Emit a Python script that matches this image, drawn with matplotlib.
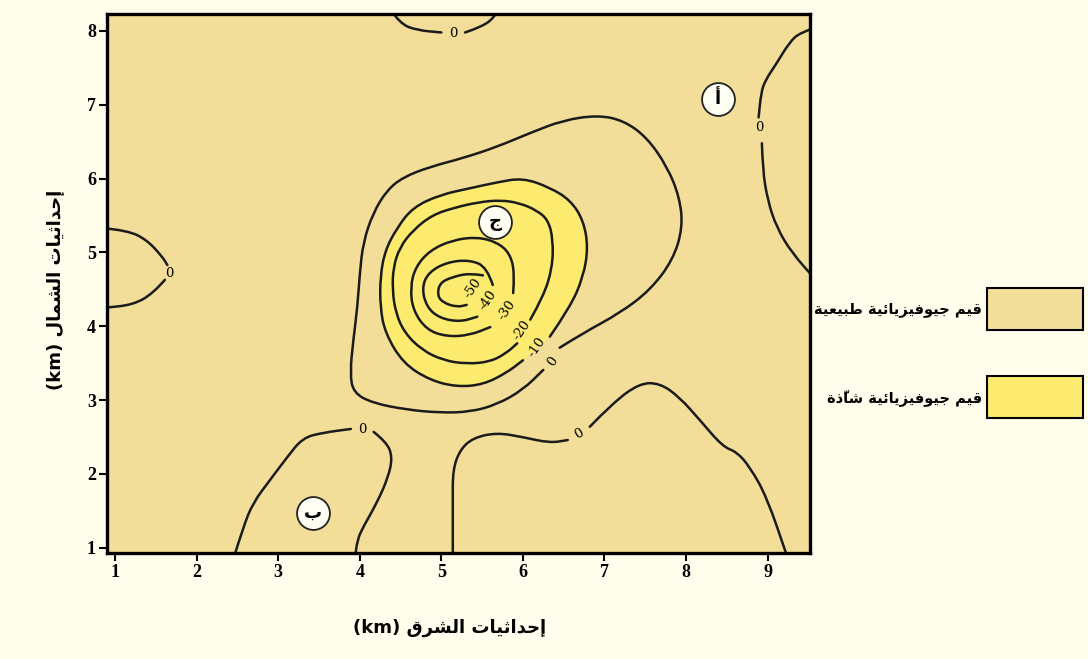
#geophysical survey contour map (arabic labels)

import numpy as np
import matplotlib.pyplot as plt
from matplotlib.patches import Rectangle, PathPatch
from matplotlib.path import Path

# --- data (km) ---
x_ticks = [1, 2, 3, 4, 5, 6, 7, 8, 9]
y_ticks = [1, 2, 3, 4, 5, 6, 7, 8]

# closed anomaly contours around the centre (gap = label position)
c0_x = [6.45, 6.74, 7.19, 7.56, 7.84, 7.96, 7.92, 7.77, 7.52, 7.23, 6.91, 6.49, 6.09, 5.68, 5.27, 4.86, 4.53, 4.33,
        4.16, 4.04, 4.00, 3.97, 3.92, 3.88, 3.92, 4.16, 4.58, 4.98, 5.35, 5.68, 6.00, 6.25]
c0_y = [3.71, 3.91, 4.18, 4.49, 4.90, 5.34, 5.75, 6.16, 6.56, 6.79, 6.86, 6.79, 6.62, 6.43, 6.28, 6.16, 6.02, 5.84,
        5.53, 5.13, 4.72, 4.26, 3.81, 3.37, 3.10, 2.96, 2.87, 2.83, 2.84, 2.94, 3.14, 3.41]

c10_x = [6.33, 6.58, 6.74, 6.80, 6.74, 6.58, 6.33, 6.00, 5.68, 5.35, 4.98, 4.65, 4.46, 4.31, 4.25, 4.25, 4.31, 4.53,
         4.86, 5.19, 5.51, 5.80, 6.00]
c10_y = [3.86, 4.26, 4.67, 5.07, 5.44, 5.71, 5.88, 6.01, 5.95, 5.87, 5.78, 5.61, 5.34, 5.03, 4.67, 4.26, 3.91, 3.50,
         3.27, 3.18, 3.21, 3.37, 3.54]

c20_x = [6.09, 6.25, 6.36, 6.37, 6.31, 6.17, 5.96, 5.72, 5.45, 5.17, 4.89, 4.65, 4.49, 4.41, 4.40, 4.44, 4.55, 4.76,
         5.02, 5.31, 5.60, 5.80, 5.93]
c20_y = [4.09, 4.40, 4.79, 5.17, 5.44, 5.57, 5.67, 5.71, 5.68, 5.61, 5.51, 5.30, 5.07, 4.80, 4.49, 4.18, 3.91, 3.68,
         3.54, 3.49, 3.52, 3.64, 3.77]

c30_x = [5.88, 5.90, 5.84, 5.68, 5.44, 5.14, 4.86, 4.68, 4.62, 4.65, 4.82, 5.07, 5.35, 5.60]
c30_y = [4.45, 4.72, 4.99, 5.14, 5.21, 5.17, 5.03, 4.80, 4.53, 4.22, 3.95, 3.86, 3.88, 3.99]

c40_x = [5.63, 5.56, 5.35, 5.07, 4.84, 4.76, 4.82, 4.98, 5.23, 5.44]
c40_y = [4.56, 4.80, 4.90, 4.87, 4.73, 4.52, 4.26, 4.11, 4.06, 4.13]

c50_x = [5.51, 5.35, 5.14, 4.98, 4.95, 5.02, 5.19, 5.31]
c50_y = [4.69, 4.72, 4.67, 4.59, 4.42, 4.32, 4.26, 4.29]

centre_labels = ['0', '-10', '-20', '-30', '-40', '-50']
centre_lab_x = [6.36, 6.17, 5.99, 5.80, 5.57, 5.38]
centre_lab_y = [3.52, 3.72, 3.95, 4.22, 4.36, 4.52]

# open zero contours that run into the frame (nan = label gap)
left_x = [0.85, 1.15, 1.39, 1.58, 1.64, np.nan, 1.61, 1.47, 1.22, 0.85]
left_y = [5.33, 5.30, 5.17, 4.94, 4.83, np.nan, 4.63, 4.45, 4.29, 4.25]

top_x = [4.37, 4.49, 4.70, 5.00, np.nan, 5.29, 5.51, 5.66, 5.69]
top_y = [8.30, 8.10, 8.01, 7.98, np.nan, 7.98, 8.06, 8.20, 8.30]

right_x = [9.60, 9.40, 9.27, 9.11, 8.97, 8.92, 8.89, np.nan, 8.93, 8.94, 9.00, 9.11, 9.30, 9.60]
right_y = [8.05, 7.98, 7.85, 7.56, 7.33, 7.16, 6.83, np.nan, 6.48, 6.12, 5.71, 5.34, 4.99, 4.62]

botleft_x = [2.45, 2.57, 2.69, 2.90, 3.11, 3.30, 3.55, 3.89, np.nan, 4.17, 4.33, 4.40, 4.35, 4.21, 4.04, 3.97, 3.94]
botleft_y = [0.85, 1.28, 1.61, 1.92, 2.23, 2.49, 2.56, 2.61, np.nan, 2.57, 2.43, 2.23, 1.96, 1.61, 1.28, 1.11, 0.85]

botright_x = [5.14, 5.14, 5.14, 5.23, 5.39, 5.68, 6.00, 6.33, 6.55, np.nan, 6.82, 7.10, 7.43, 7.68, 7.92, 8.17, 8.45,
              8.62, 8.78, 8.99, 9.25]
botright_y = [0.85, 1.61, 2.06, 2.33, 2.49, 2.56, 2.50, 2.42, 2.46, np.nan, 2.64, 2.96, 3.23, 3.23, 3.04, 2.73, 2.37,
              2.30, 2.10, 1.69, 0.85]

zero_lab_x = [1.67, 5.15, 8.90, 4.03, 6.69]
zero_lab_y = [4.72, 7.97, 6.69, 2.60, 2.54]
zero_lab_rot = [0, 0, 0, 0, 30]

# lettered sites
site_names = ['أ', 'ب', 'ج']
site_x = [8.39, 3.43, 5.66]
site_y = [7.08, 1.47, 5.41]

legend_names = ['قيم جيوفيزيائية طبيعية', 'قيم جيوفيزيائية شاذّة']
x_title = 'إحداثيات الشرق'
y_title = 'إحداثيات الشمال'

tan = '#F2DE98'
yellow = '#FCEB6E'
cream = '#FFFDEB'

# matplotlib has no arabic shaping -> pick presentation forms by hand and reverse
FORMS = {
    'ا': ('\uFE8D', '\uFE8E', None, None),
    'أ': ('\uFE83', '\uFE84', None, None),
    'إ': ('\uFE87', '\uFE88', None, None),
    'ب': ('\uFE8F', '\uFE90', '\uFE91', '\uFE92'),
    'ة': ('\uFE93', '\uFE94', None, None),
    'ت': ('\uFE95', '\uFE96', '\uFE97', '\uFE98'),
    'ث': ('\uFE99', '\uFE9A', '\uFE9B', '\uFE9C'),
    'ج': ('\uFE9D', '\uFE9E', '\uFE9F', '\uFEA0'),
    'ح': ('\uFEA1', '\uFEA2', '\uFEA3', '\uFEA4'),
    'د': ('\uFEA9', '\uFEAA', None, None),
    'ذ': ('\uFEAB', '\uFEAC', None, None),
    'ر': ('\uFEAD', '\uFEAE', None, None),
    'ز': ('\uFEAF', '\uFEB0', None, None),
    'ش': ('\uFEB5', '\uFEB6', '\uFEB7', '\uFEB8'),
    'ط': ('\uFEC1', '\uFEC2', '\uFEC3', '\uFEC4'),
    'ع': ('\uFEC9', '\uFECA', '\uFECB', '\uFECC'),
    'ف': ('\uFED1', '\uFED2', '\uFED3', '\uFED4'),
    'ق': ('\uFED5', '\uFED6', '\uFED7', '\uFED8'),
    'ل': ('\uFEDD', '\uFEDE', '\uFEDF', '\uFEE0'),
    'م': ('\uFEE1', '\uFEE2', '\uFEE3', '\uFEE4'),
    'و': ('\uFEED', '\uFEEE', None, None),
    'ي': ('\uFEF1', '\uFEF2', '\uFEF3', '\uFEF4'),
    'ئ': ('\uFE89', '\uFE8A', '\uFE8B', '\uFE8C'),
}
MARKS = '\u0651'


def ar(text):
    chars = list(text)
    clusters = []
    for i, c in enumerate(chars):
        if c in MARKS and clusters:
            clusters[-1] += c
            continue
        if c not in FORMS:
            clusters.append(c)
            continue
        j = i - 1
        while j >= 0 and chars[j] in MARKS:
            j -= 1
        k = i + 1
        while k < len(chars) and chars[k] in MARKS:
            k += 1
        prev_joins = j >= 0 and chars[j] in FORMS and FORMS[chars[j]][2] is not None
        iso, fin, ini, med = FORMS[c]
        next_joins = ini is not None and k < len(chars) and chars[k] in FORMS
        if prev_joins and next_joins:
            g = med
        elif prev_joins:
            g = fin
        elif next_joins:
            g = ini
        else:
            g = iso
        clusters.append(g)
    return ''.join(reversed(clusters))


def smooth_path(xs, ys):
    # quadratic bezier through the traced points (nan splits the line)
    segs, cur = [], []
    for px, py in zip(xs, ys):
        if np.isnan(px):
            if cur:
                segs.append(cur)
            cur = []
        else:
            cur.append((px, py))
    if cur:
        segs.append(cur)
    verts, codes = [], []
    for seg in segs:
        seg = np.array(seg)
        verts.append(seg[0])
        codes.append(Path.MOVETO)
        for i in range(1, len(seg) - 1):
            verts += [seg[i], (seg[i] + seg[i + 1]) / 2]
            codes += [Path.CURVE3, Path.CURVE3]
        verts.append(seg[-1])
        codes.append(Path.LINETO)
    return Path(verts, codes)


fig = plt.figure(figsize=(10.88, 6.59), dpi=100, facecolor=cream)
ax = fig.add_axes([107 / 1088, 1 - 553 / 659, 703 / 1088, 539 / 659])
ax.set_facecolor(tan)

# anomaly fill
ax.add_patch(PathPatch(smooth_path(c10_x, c10_y), facecolor=yellow, edgecolor='none', zorder=1))

for xs, ys in [(c0_x, c0_y), (c10_x, c10_y), (c20_x, c20_y), (c30_x, c30_y), (c40_x, c40_y), (c50_x, c50_y),
               (left_x, left_y), (top_x, top_y), (right_x, right_y), (botleft_x, botleft_y),
               (botright_x, botright_y)]:
    ax.add_patch(PathPatch(smooth_path(xs, ys), fill=False, edgecolor='#1b1b1b', lw=1.8, zorder=2,
                           capstyle='round'))

for lab, lx, ly in zip(centre_labels, centre_lab_x, centre_lab_y):
    ax.text(lx, ly, lab, fontsize=9.5, family='DejaVu Serif', rotation=55, ha='center', va='center',
            rotation_mode='anchor', zorder=3)
for lx, ly, rot in zip(zero_lab_x, zero_lab_y, zero_lab_rot):
    ax.text(lx, ly, '0', fontsize=9.5, family='DejaVu Serif', rotation=rot, ha='center', va='center',
            rotation_mode='anchor', zorder=3)

# site markers
ax.scatter(site_x, site_y, s=560, facecolor='#FFFFF4', edgecolor='#222222', linewidth=1.3, zorder=4)
for name, sx, sy in zip(site_names, site_x, site_y):
    ax.text(sx, sy, ar(name), fontsize=13, ha='center', va='center', zorder=5, family='DejaVu Sans',
            fontweight='bold')

ax.set_xlim(0.9, 9.52)
ax.set_ylim(0.93, 8.23)
ax.set_xticks(x_ticks)
ax.set_yticks(y_ticks)
ax.tick_params(direction='out', length=6, width=1.5, labelsize=13, pad=2, colors='black')
for lab in ax.get_xticklabels() + ax.get_yticklabels():
    lab.set_fontfamily('Liberation Serif')
    lab.set_fontweight('bold')
for sp in ax.spines.values():
    sp.set_linewidth(2.4)
    sp.set_color('black')

fig.text(450 / 1088, 1 - 628 / 659, '(km) ' + ar(x_title), ha='center', va='center', fontsize=13,
         fontweight='bold')
fig.text(55 / 1088, 1 - 290 / 659, '(km) ' + ar(y_title), ha='center', va='center', fontsize=13, rotation=90,
         fontweight='bold')

# legend boxes
for name, colour, ybox in zip(legend_names, [tan, yellow], [288, 376]):
    fig.add_artist(Rectangle((987 / 1088, 1 - (ybox + 42) / 659), 96 / 1088, 42 / 659, transform=fig.transFigure,
                             facecolor=colour, edgecolor='black', linewidth=1.5))
    fig.text(982 / 1088, 1 - (ybox + 22) / 659, ar(name), ha='right', va='center', fontsize=10.5,
             fontweight='bold')

fig.savefig('out.png', dpi=100, facecolor=fig.get_facecolor())
